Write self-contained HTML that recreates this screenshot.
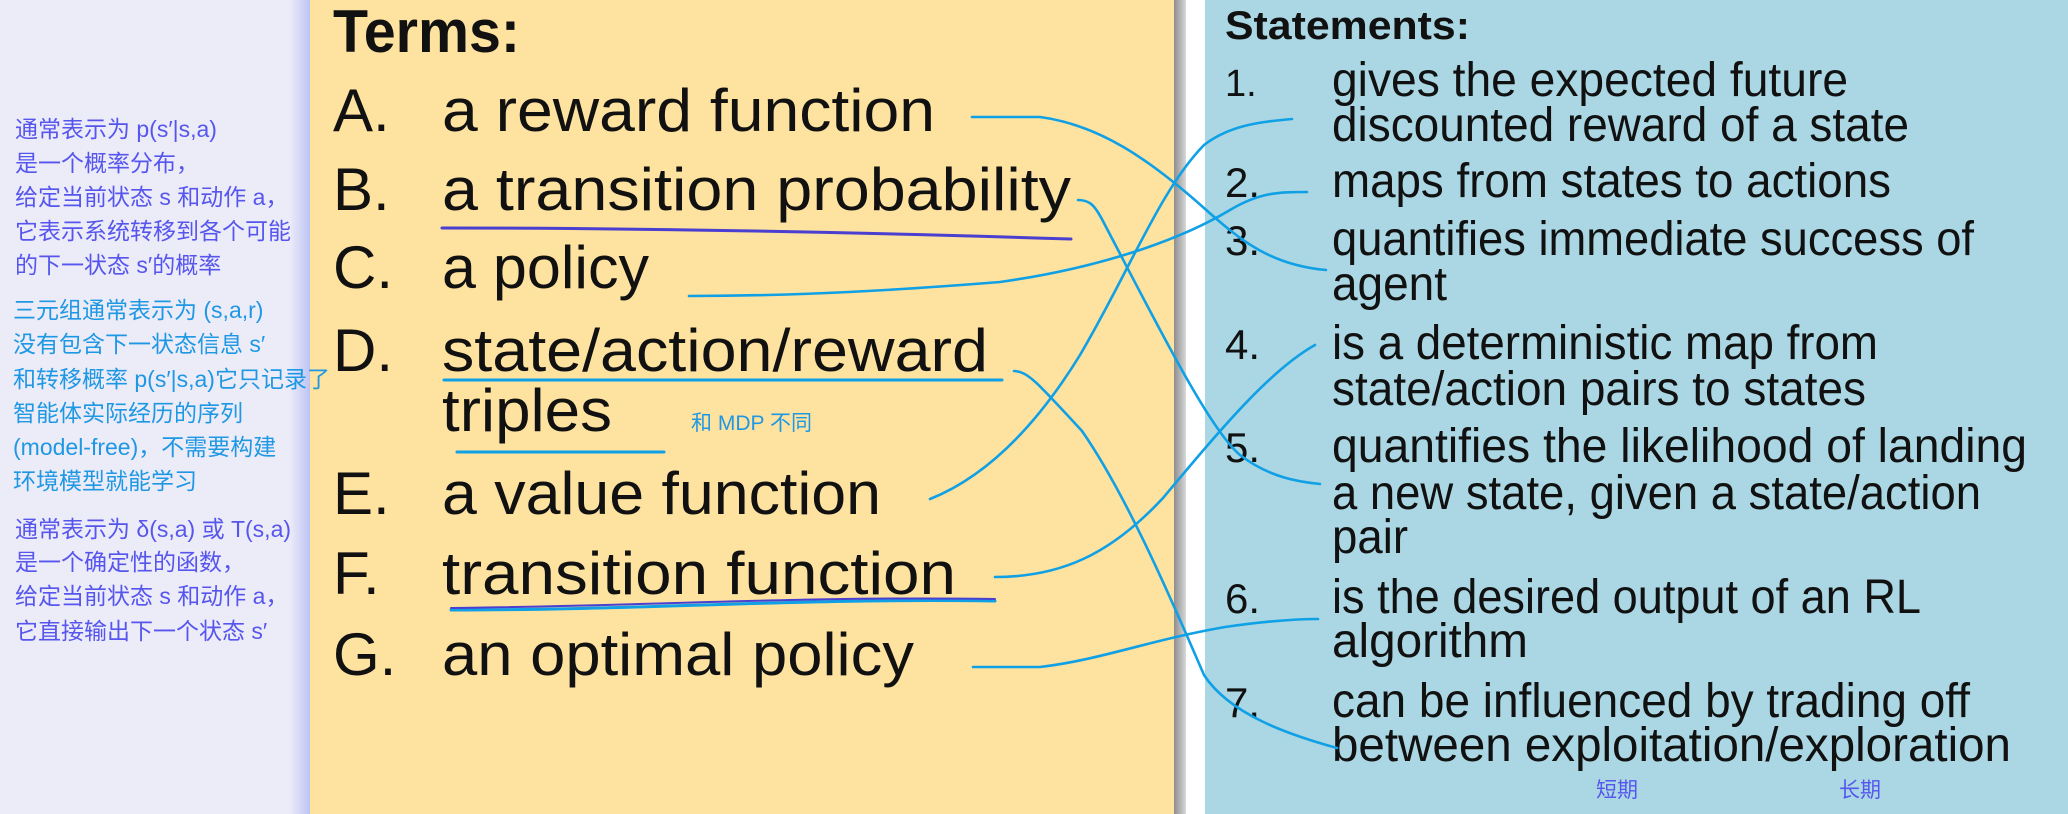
<!DOCTYPE html>
<html><head><meta charset="utf-8"><style>
html,body{margin:0;padding:0;width:2068px;height:814px;overflow:hidden;background:#ecebf8}
svg{display:block}
.t{font-family:"Liberation Sans Narrow","Liberation Sans",sans-serif;fill:#111}
.n{font-family:"Liberation Sans","Noto Sans CJK SC",sans-serif}
</style></head><body>
<svg width="2068" height="814" viewBox="0 0 2068 814" xmlns="http://www.w3.org/2000/svg">
<defs>
<linearGradient id="lg" x1="0" x2="1"><stop offset="0" stop-color="#ecebf8"/><stop offset="1" stop-color="#bcc4f4"/></linearGradient>
<linearGradient id="gg" x1="0" x2="1"><stop offset="0" stop-color="#8e8e8e"/><stop offset="1" stop-color="#d8d8d8"/></linearGradient>
</defs>
<rect x="0" y="0" width="2068" height="814" fill="#ecebf8"/>
<rect x="290" y="0" width="20" height="814" fill="url(#lg)"/>
<rect x="310" y="0" width="864" height="814" fill="#fde2a0"/>
<rect x="1174" y="0" width="12" height="814" fill="url(#gg)"/>
<rect x="1186" y="0" width="19" height="814" fill="#ffffff"/>
<rect x="1205" y="0" width="863" height="814" fill="#aad7e3"/>

<g class="n" font-size="23" fill="#5656ee">
<text x="15" y="137">通常表示为 p(s′|s,a)</text>
<text x="15" y="171">是一个概率分布，</text>
<text x="15" y="205">给定当前状态 s 和动作 a，</text>
<text x="15" y="239">它表示系统转移到各个可能</text>
<text x="15" y="273">的下一状态 s′的概率</text>
</g>
<g class="n" font-size="23" fill="#1f98e4">
<text x="13" y="318">三元组通常表示为 (s,a,r)</text>
<text x="13" y="352">没有包含下一状态信息 s′</text>
<text x="13" y="387">和转移概率 p(s′|s,a)它只记录了</text>
<text x="13" y="421">智能体实际经历的序列</text>
<text x="13" y="455">(model-free)，不需要构建</text>
<text x="13" y="489">环境模型就能学习</text>
</g>
<g class="n" font-size="23" fill="#5656ee">
<text x="15" y="537">通常表示为 δ(s,a) 或 T(s,a)</text>
<text x="15" y="570">是一个确定性的函数，</text>
<text x="15" y="604">给定当前状态 s 和动作 a，</text>
<text x="15" y="639">它直接输出下一个状态 s′</text>
</g>

<text class="t" x="333" y="52" font-size="60" font-weight="bold" textLength="187" lengthAdjust="spacingAndGlyphs">Terms:</text>
<g class="t" font-size="60">
<text x="333" y="131">A.</text><text x="442" y="131" textLength="493" lengthAdjust="spacingAndGlyphs">a reward function</text>
<text x="333" y="210">B.</text><text x="442" y="210" textLength="629" lengthAdjust="spacingAndGlyphs">a transition probability</text>
<text x="333" y="288">C.</text><text x="442" y="288" textLength="207" lengthAdjust="spacingAndGlyphs">a policy</text>
<text x="333" y="371">D.</text><text x="442" y="371" textLength="546" lengthAdjust="spacingAndGlyphs">state/action/reward</text>
<text x="442" y="431" textLength="170" lengthAdjust="spacingAndGlyphs">triples</text>
<text x="333" y="514">E.</text><text x="442" y="514" textLength="439" lengthAdjust="spacingAndGlyphs">a value function</text>
<text x="333" y="594">F.</text><text x="442" y="594" textLength="514" lengthAdjust="spacingAndGlyphs">transition function</text>
<text x="333" y="675">G.</text><text x="442" y="675" textLength="472" lengthAdjust="spacingAndGlyphs">an optimal policy</text>
</g>
<text class="n" x="691" y="430" font-size="21" fill="#1f98e4">和 MDP 不同</text>

<text class="t" x="1225" y="39" font-size="40" font-weight="bold" textLength="245" lengthAdjust="spacingAndGlyphs">Statements:</text>
<g class="t" font-size="48">
<text x="1225" y="96" font-size="38">1.</text>
<text x="1332" y="96" textLength="516" lengthAdjust="spacingAndGlyphs">gives the expected future</text>
<text x="1332" y="141" textLength="577" lengthAdjust="spacingAndGlyphs">discounted reward of a state</text>
<text x="1225" y="197" font-size="42">2.</text>
<text x="1332" y="197" textLength="559" lengthAdjust="spacingAndGlyphs">maps from states to actions</text>
<text x="1225" y="255" font-size="42">3.</text>
<text x="1332" y="255" textLength="642" lengthAdjust="spacingAndGlyphs">quantifies immediate success of</text>
<text x="1332" y="300" textLength="115" lengthAdjust="spacingAndGlyphs">agent</text>
<text x="1225" y="359" font-size="42">4.</text>
<text x="1332" y="359" textLength="546" lengthAdjust="spacingAndGlyphs">is a deterministic map from</text>
<text x="1332" y="405" textLength="534" lengthAdjust="spacingAndGlyphs">state/action pairs to states</text>
<text x="1225" y="462" font-size="42">5.</text>
<text x="1332" y="462" textLength="695" lengthAdjust="spacingAndGlyphs">quantifies the likelihood of landing</text>
<text x="1332" y="509" textLength="649" lengthAdjust="spacingAndGlyphs">a new state, given a state/action</text>
<text x="1332" y="553" textLength="76" lengthAdjust="spacingAndGlyphs">pair</text>
<text x="1225" y="613" font-size="42">6.</text>
<text x="1332" y="613" textLength="589" lengthAdjust="spacingAndGlyphs">is the desired output of an RL</text>
<text x="1332" y="657" textLength="196" lengthAdjust="spacingAndGlyphs">algorithm</text>
<text x="1225" y="717" font-size="42">7.</text>
<text x="1332" y="717" textLength="638" lengthAdjust="spacingAndGlyphs">can be influenced by trading off</text>
<text x="1332" y="761" textLength="679" lengthAdjust="spacingAndGlyphs">between exploitation/exploration</text>
</g>
<text class="n" x="1596" y="797" font-size="21" fill="#5656ee">短期</text>
<text class="n" x="1839" y="797" font-size="21" fill="#5656ee">长期</text>

<g fill="none" stroke-linecap="round" stroke-linejoin="round">
<path d="M442 228 C650 228 850 232 1071 239" stroke="#4a3fd0" stroke-width="3"/>
<path d="M444 380 L1002 380" stroke="#10a0e6" stroke-width="3"/>
<path d="M457 452 L664 452" stroke="#10a0e6" stroke-width="3"/>
<path d="M451 610 C650 610 800 598 995 601" stroke="#10a0e6" stroke-width="3"/>
<path d="M451 608 C650 606 800 596 995 599" stroke="#4a3fd0" stroke-width="2"/>

<g stroke="#10a0e6" stroke-width="2.6">
<path d="M972 117 L1040 117 C1100 125 1150 160 1204 208 C1240 240 1270 265 1326 270"/>
<path d="M1078 200 C1090 200 1095 205 1105 225 C1160 330 1210 430 1240 455 C1270 478 1300 482 1320 484"/>
<path d="M689 296 C800 296 900 290 1000 282 C1100 268 1180 240 1230 210 C1260 192 1280 192 1307 192"/>
<path d="M1014 371 C1028 372 1035 380 1082 431 C1130 500 1180 620 1204 675 C1230 715 1290 735 1337 748"/>
<path d="M930 499 C990 475 1040 420 1080 355 C1130 270 1160 190 1204 145 C1230 125 1260 122 1292 119"/>
<path d="M995 577 C1060 577 1110 555 1163 498 C1220 430 1270 370 1315 345"/>
<path d="M973 667 L1040 667 C1100 660 1150 640 1225 627 C1260 622 1290 619 1318 619"/>
</g>
</g>
</svg>
</body></html>
